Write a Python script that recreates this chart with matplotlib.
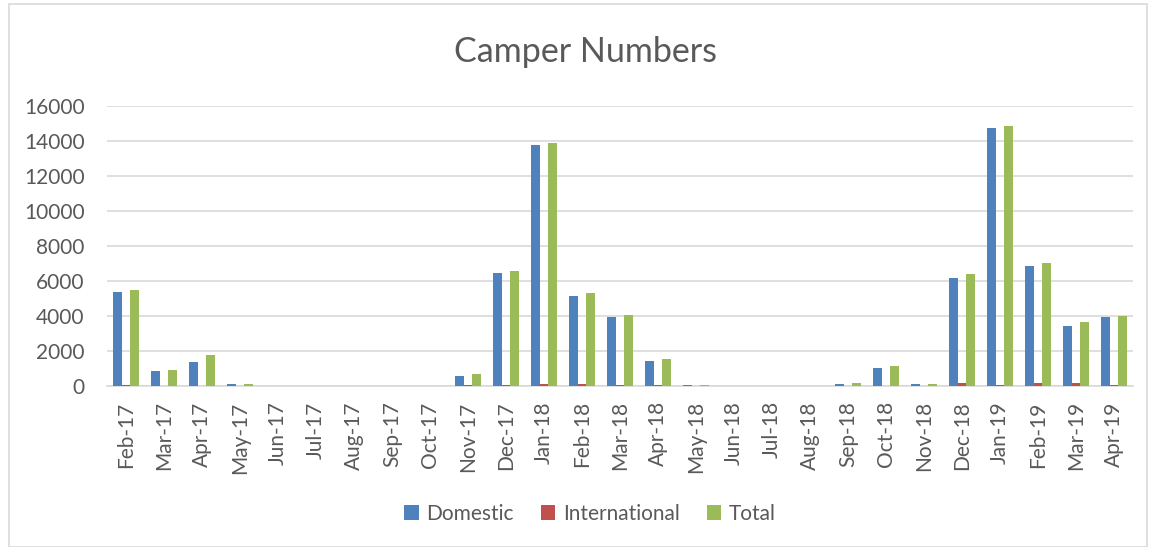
import matplotlib.pyplot as plt
import numpy as np
from matplotlib.patches import Rectangle

months = ["Feb-17", "Mar-17", "Apr-17", "May-17", "Jun-17", "Jul-17", "Aug-17",
          "Sep-17", "Oct-17", "Nov-17", "Dec-17", "Jan-18", "Feb-18", "Mar-18",
          "Apr-18", "May-18", "Jun-18", "Jul-18", "Aug-18", "Sep-18", "Oct-18",
          "Nov-18", "Dec-18", "Jan-19", "Feb-19", "Mar-19", "Apr-19"]
domestic = [5350, 875, 1350, 95, 20, 20, 0, 20, 25, 550, 6480, 13750, 5170,
            3930, 1410, 40, 20, 10, 20, 140, 1050, 115, 6170, 14770, 6840, 3410, 3930]
international = [80, 10, 10, 5, 0, 0, 0, 0, 0, 80, 70, 100, 100,
                 80, 40, 5, 0, 0, 0, 10, 20, 10, 200, 80, 200, 170, 30]
total = [5490, 915, 1790, 110, 20, 20, 0, 20, 25, 685, 6590, 13870, 5300,
         4040, 1530, 60, 20, 10, 25, 155, 1130, 135, 6420, 14860, 7050, 3640, 4020]

plt.rcParams['font.family'] = ['Lato', 'DejaVu Sans']
text_color = "#595959"

fig = plt.figure(figsize=(11.51, 5.47), dpi=100)
ax = fig.add_axes([107 / 1151, 1 - 386 / 547, 1026 / 1151, 280 / 547])

x = np.arange(len(months))
w = 0.224
ax.bar(x - w, domestic, w, color="#4F81BD", label="Domestic", zorder=3)
ax.bar(x, international, w, color="#C0504D", label="International", zorder=3)
ax.bar(x + w, total, w, color="#9BBB59", label="Total", zorder=3)

ax.set_xlim(-0.5, len(months) - 0.5)
ax.set_ylim(0, 16000)
ax.set_yticks(range(0, 16001, 2000))
ax.set_xticks(x)
ax.set_xticklabels(months, rotation=90)
ax.grid(axis="y", color="#D9D9D9", linewidth=1.2, zorder=0)
for s in ["top", "right", "left"]:
    ax.spines[s].set_visible(False)
ax.spines["bottom"].set_color("#D9D9D9")
ax.spines["bottom"].set_linewidth(1.2)
ax.tick_params(axis="both", length=0, labelsize=15, colors=text_color)
ax.tick_params(axis="x", pad=11)
ax.tick_params(axis="y", pad=16)

fig.text(585 / 1151, 1 - 52 / 547, "Camper Numbers", ha="center", va="center",
         fontsize=24.5, color=text_color)

fig.legend(loc="center", bbox_to_anchor=(590 / 1151, 1 - 514 / 547), ncol=3,
           frameon=False, fontsize=15, handlelength=0.7, handleheight=0.7,
           columnspacing=1.3, handletextpad=0.35, labelcolor=text_color)

fig.patches.append(Rectangle((9 / 1151, 0), 1138 / 1151, 1 - 4 / 547,
                             transform=fig.transFigure, fill=False,
                             edgecolor="#D9D9D9", linewidth=1.2))

fig.savefig("out.png", dpi=100)
